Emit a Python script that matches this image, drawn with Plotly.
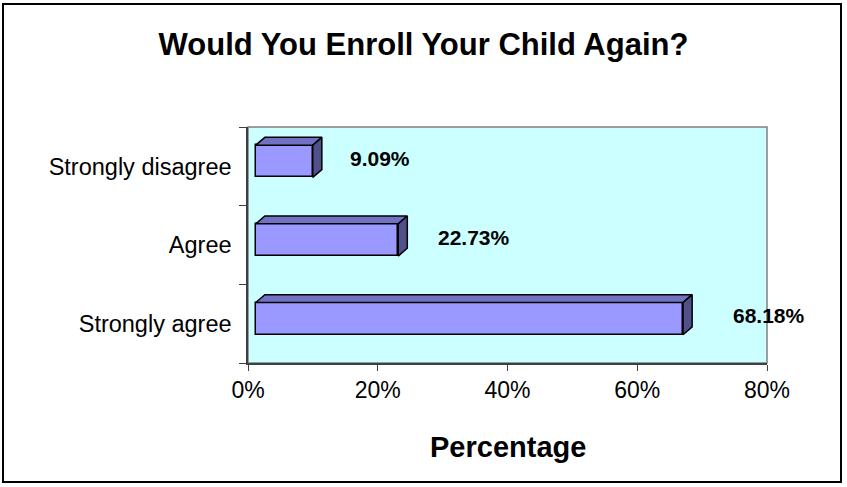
import plotly.graph_objects as go

# ---- data ----
categories = ["Strongly agree", "Agree", "Strongly disagree"]
values = [68.18, 22.73, 9.09]
value_labels = ["68.18%", "22.73%", "9.09%"]
x_tick_vals = [0, 20, 40, 60, 80]
x_tick_text = ["0%", "20%", "40%", "60%", "80%"]

# ---- style constants (3D look) ----
FRONT = "#9999FF"
TOP = "#7272C4"
SIDE = "#50508A"
BASE = 1.2          # front face starts slightly right of the axis (Excel 3D)
PERSP = 0.966       # perspective scale of the front face
DX, DY = 1.4, 0.10  # depth offset (x in %, y in category units)
BAR_H = 0.41
BAR_SHIFT = 0.064
FONT = "Liberation Sans, Arial, sans-serif"

W, H = 847, 487
L, R, T, B = 248, 80, 127, 124
PW, PH = W - L - R, H - T - B

pos = list(range(len(categories)))
fig = go.Figure()

# front faces
fig.add_trace(go.Bar(
    y=pos, x=[v * PERSP for v in values], base=BASE, orientation="h",
    width=BAR_H, offset=-BAR_H / 2 + BAR_SHIFT,
    marker=dict(color=FRONT, line=dict(color="black", width=1.5)),
    hoverinfo="skip", showlegend=False,
))

# top and side faces
for p, v in zip(pos, values):
    x0 = BASE
    x1 = BASE + v * PERSP
    yb = p - BAR_H / 2 + BAR_SHIFT
    yt = p + BAR_H / 2 + BAR_SHIFT
    fig.add_trace(go.Scatter(
        x=[x0, x1, x1 + DX, x0 + DX, x0], y=[yt, yt, yt + DY, yt + DY, yt],
        mode="lines", fill="toself", fillcolor=TOP,
        line=dict(color="black", width=1.5), hoverinfo="skip", showlegend=False,
    ))
    fig.add_trace(go.Scatter(
        x=[x1, x1 + DX, x1 + DX, x1, x1], y=[yb, yb + DY, yt + DY, yt, yb],
        mode="lines", fill="toself", fillcolor=SIDE,
        line=dict(color="black", width=1.5), hoverinfo="skip", showlegend=False,
    ))

# data labels
for p, v, t in zip(pos, values, value_labels):
    fig.add_annotation(
        x=v + 6.3, y=p + 0.1, text=f"<b>{t}</b>", showarrow=False,
        xanchor="left", yanchor="middle",
        font=dict(family=FONT, size=21, color="black"),
    )

# axis title
fig.add_annotation(
    xref="paper", yref="paper", x=0.5, y=(T + PH - 447) / PH,
    text="<b>Percentage</b>", showarrow=False, xanchor="center", yanchor="middle",
    font=dict(family=FONT, size=29, color="black"),
)

# plot-area gray border
fig.add_shape(type="rect", xref="paper", yref="paper", x0=0, x1=1, y0=0, y1=1,
              line=dict(color="#808080", width=1.5), layer="below")
# outer chart border
fig.add_shape(type="rect", xref="paper", yref="paper",
              x0=(3 - L) / PW, x1=(841 - L) / PW,
              y0=(T + PH - 482) / PH, y1=(T + PH - 4) / PH,
              line=dict(color="black", width=2))

fig.update_layout(
    width=W, height=H,
    margin=dict(l=L, r=R, t=T, b=B, autoexpand=False),
    paper_bgcolor="white", plot_bgcolor="#CCFFFF",
    bargap=0,
    title=dict(text="<b>Would You Enroll Your Child Again?</b>", x=0.5, xanchor="center",
               y=1 - 44 / H, yanchor="middle",
               font=dict(family=FONT, size=31, color="black")),
    font=dict(family=FONT, color="black"),
    xaxis=dict(range=[0, 80], tickvals=x_tick_vals, ticktext=x_tick_text,
               ticks="outside", ticklen=6, tickcolor="#404040",
               showline=True, linecolor="#404040", linewidth=1.5,
               showgrid=False, zeroline=False,
               tickfont=dict(size=23), fixedrange=True),
    yaxis=dict(range=[-0.5, 2.5], tickvals=pos, ticktext=categories,
               ticks="", showline=True, linecolor="#404040", linewidth=1.5,
               showgrid=False, zeroline=False, ticklabelstandoff=10,
               minor=dict(tickvals=[-0.5, 0.5, 1.5, 2.5], ticks="outside",
                          ticklen=7, tickcolor="#404040", showgrid=False),
               tickfont=dict(size=23.5), fixedrange=True),
)

fig.write_html("out.html", config={"displayModeBar": False},
               post_script="document.body.style.margin='0';document.body.style.overflow='hidden';")
